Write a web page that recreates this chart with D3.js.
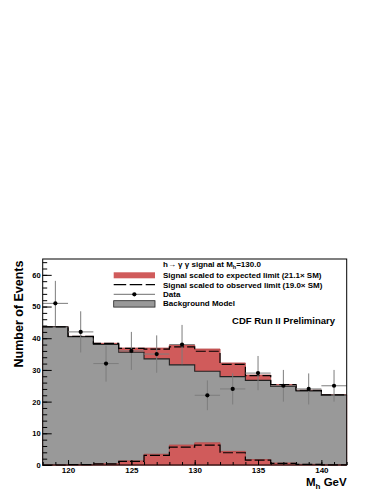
<!DOCTYPE html>
<html>
<head>
<meta charset="utf-8">
<script src="https://cdn.jsdelivr.net/npm/d3@7"></script>
<style>
  body { margin: 0; background: #fff; }
  text { font-family: "Liberation Sans", Arial, sans-serif; font-weight: bold; fill: #000; }
</style>
</head>
<body>
<div class="chart"></div>
<script>
const svgWidth = 382
const svgHeight = 494

let margin = { top: 259, right: 35.3, bottom: 29, left: 42.7 }
let width = svgWidth - margin.left - margin.right
let height = svgHeight - margin.top - margin.bottom

// ========================= DATA =========================
// bin edges (GeV), 2 GeV bins
const binEdges = [118, 120, 122, 124, 126, 128, 130, 132, 134, 136, 138, 140, 142]
const background = [43.6, 40.5, 38.0, 35.6, 33.5, 31.6, 29.6, 27.9, 26.7, 24.8, 23.4, 22.1]
// signal scaled to expected limit (21.1 x SM)
const signalExpected = [0.0, 0.1, 0.4, 1.3, 3.4, 6.3, 7.0, 4.3, 1.7, 0.6, 0.2, 0.05]
// signal scaled to observed limit (19.0 x SM)
const signalObserved = [0.0, 0.09, 0.36, 1.17, 3.06, 5.67, 6.3, 3.87, 1.53, 0.54, 0.18, 0.05]
// data points
const dataMass = [119, 121, 123, 125, 127, 129, 131, 133, 135, 137, 139, 141]
const dataCounts = [51, 42, 32, 36, 35, 38, 22, 24, 29, 25, 24, 25]
const dataErr = [7.1, 6.5, 5.7, 6.0, 5.9, 6.2, 4.7, 4.9, 5.4, 5.0, 4.9, 5.0]

const xMajor = [120, 125, 130, 135, 140]
const xMinor = [118, 119, 120, 121, 122, 123, 124, 125, 126, 127, 128, 129, 130, 131, 132, 133, 134, 135, 136, 137, 138, 139, 140, 141, 142]
const yMajor = [0, 10, 20, 30, 40, 50, 60]
const yMinor = [0, 2, 4, 6, 8, 10, 12, 14, 16, 18, 20, 22, 24, 26, 28, 30, 32, 34, 36, 38, 40, 42, 44, 46, 48, 50, 52, 54, 56, 58, 60, 62, 64]

const redFill = "#d05b5b"
const grayFill = "#999999"

let svg = d3.select(".chart")
  .append("svg")
  .attr("width", svgWidth)
  .attr("height", svgHeight)

let chartGroup = svg.append("g")
  .attr("transform", `translate(${margin.left}, ${margin.top})`)

let x = d3.scaleLinear().domain([118, 142]).range([0, width])
let y = d3.scaleLinear().domain([0, 65]).range([height, 0])

// turn a list of bin contents into step points (last bin repeated at upper edge)
function steps(values) {
  let pts = values.map((v, i) => [binEdges[i], v])
  pts.push([binEdges[binEdges.length - 1], values[values.length - 1]])
  return pts
}

let area = d3.area()
  .curve(d3.curveStepAfter)
  .x(d => x(d[0]))
  .y0(y(0))
  .y1(d => y(d[1]))

let line = d3.line()
  .curve(d3.curveStepAfter)
  .x(d => x(d[0]))
  .y(d => y(d[1]))

let stackExp = background.map((b, i) => b + signalExpected[i])
let stackObs = background.map((b, i) => b + signalObserved[i])

// stacked background + expected signal
chartGroup.append("path")
  .attr("d", area(steps(stackExp)))
  .attr("fill", redFill)
  .attr("stroke", "#b54848")
  .attr("stroke-width", 0.8)

// background model
chartGroup.append("path")
  .attr("d", area(steps(background)))
  .attr("fill", grayFill)

chartGroup.append("path")
  .attr("d", line(steps(background)))
  .attr("fill", "none")
  .attr("stroke", "#222")
  .attr("stroke-width", 1.1)

// observed limit stacked (dashed)
chartGroup.append("path")
  .attr("d", line(steps(stackObs)))
  .attr("fill", "none")
  .attr("stroke", "#000")
  .attr("stroke-width", 1.2)
  .attr("stroke-dasharray", "10,3")

// signal only at the bottom
chartGroup.append("path")
  .attr("d", area(steps(signalExpected)))
  .attr("fill", redFill)
  .attr("stroke", "#b54848")
  .attr("stroke-width", 0.8)

chartGroup.append("path")
  .attr("d", line(steps(signalObserved)))
  .attr("fill", "none")
  .attr("stroke", "#000")
  .attr("stroke-width", 1.2)
  .attr("stroke-dasharray", "10,3")

// data with error bars
let pts = chartGroup.append("g")
dataMass.forEach((m, i) => {
  pts.append("line")
    .attr("x1", x(m - 1)).attr("x2", x(m + 1))
    .attr("y1", y(dataCounts[i])).attr("y2", y(dataCounts[i]))
    .attr("stroke", "#7d7d7d").attr("stroke-width", 1)
  pts.append("line")
    .attr("x1", x(m)).attr("x2", x(m))
    .attr("y1", y(dataCounts[i] - dataErr[i])).attr("y2", y(dataCounts[i] + dataErr[i]))
    .attr("stroke", "#7d7d7d").attr("stroke-width", 1)
  pts.append("circle")
    .attr("cx", x(m)).attr("cy", y(dataCounts[i]))
    .attr("r", 2.1).attr("fill", "#000")
})

// ========================= AXES =========================
let xAxis = chartGroup.append("g")
  .attr("transform", `translate(0, ${height})`)
  .call(d3.axisBottom(x).tickValues(xMajor).tickFormat(d3.format("d"))
    .tickSizeInner(-5).tickSizeOuter(0).tickPadding(2.5))
xAxis.append("g")
  .call(d3.axisBottom(x).tickValues(xMinor).tickFormat("").tickSizeInner(-3).tickSizeOuter(0))

let yAxis = chartGroup.append("g")
  .call(d3.axisLeft(y).tickValues(yMajor).tickSizeInner(-9).tickSizeOuter(0).tickPadding(2))
yAxis.append("g")
  .call(d3.axisLeft(y).tickValues(yMinor).tickFormat("").tickSizeInner(-4.5).tickSizeOuter(0))

chartGroup.selectAll(".domain").remove()
chartGroup.selectAll(".tick line").attr("stroke", "#000")
xAxis.selectAll("text").attr("font-size", 8).attr("font-weight", "bold")
yAxis.selectAll("text").attr("font-size", 7.5).attr("font-weight", "bold")

// frame
chartGroup.append("rect")
  .attr("x", 0).attr("y", 0)
  .attr("width", width).attr("height", height)
  .attr("fill", "none")
  .attr("stroke", "#000")
  .attr("stroke-width", 1)

// axis titles
let xt = svg.append("text")
  .attr("x", margin.left + width)
  .attr("y", 485.5)
  .attr("text-anchor", "end")
  .attr("font-size", 11.5)
xt.append("tspan").text("M")
xt.append("tspan").attr("font-size", 8).attr("dy", 3).text("h")
xt.append("tspan").attr("dy", -3).text(" GeV")

svg.append("text")
  .attr("transform", "translate(23, 314) rotate(-90)")
  .attr("text-anchor", "middle")
  .attr("font-size", 12.5)
  .text("Number of Events")

// ========================= LEGEND =========================
let lg = svg.append("g").attr("font-size", 8)
let lx0 = 113.7, lx1 = 155, tx = 163

let title = lg.append("text").attr("x", tx).attr("y", 267)
title.append("tspan").text("h\u2192 \u03b3 \u03b3 signal at M")
title.append("tspan").attr("font-size", 5.5).attr("dy", 2).text("h")
title.append("tspan").attr("dy", -2).text("=130.0")

lg.append("rect").attr("x", lx0).attr("y", 272.3).attr("width", lx1 - lx0).attr("height", 6)
  .attr("fill", redFill)
lg.append("text").attr("x", tx).attr("y", 278.3).text("Signal scaled to expected limit (21.1\u00d7 SM)")

lg.append("line").attr("x1", lx0).attr("x2", lx1).attr("y1", 284.7).attr("y2", 284.7)
  .attr("stroke", "#000").attr("stroke-width", 1.2).attr("stroke-dasharray", "12.5,3.5")
lg.append("text").attr("x", tx).attr("y", 287.7).text("Signal scaled to observed limit (19.0\u00d7 SM)")

lg.append("line").attr("x1", lx0).attr("x2", lx1).attr("y1", 294.3).attr("y2", 294.3)
  .attr("stroke", "#8a8a8a").attr("stroke-width", 1.2)
lg.append("circle").attr("cx", (lx0 + lx1) / 2).attr("cy", 294.3).attr("r", 2.1).attr("fill", "#000")
lg.append("text").attr("x", tx).attr("y", 297).text("Data")

lg.append("rect").attr("x", lx0).attr("y", 300.7).attr("width", lx1 - lx0).attr("height", 6.4)
  .attr("fill", grayFill).attr("stroke", "#222").attr("stroke-width", 0.8)
lg.append("text").attr("x", tx).attr("y", 306).text("Background Model")

svg.append("text")
  .attr("x", 335).attr("y", 323.5)
  .attr("text-anchor", "end")
  .attr("font-size", 9.5)
  .text("CDF Run II Preliminary")
</script>
</body>
</html>
